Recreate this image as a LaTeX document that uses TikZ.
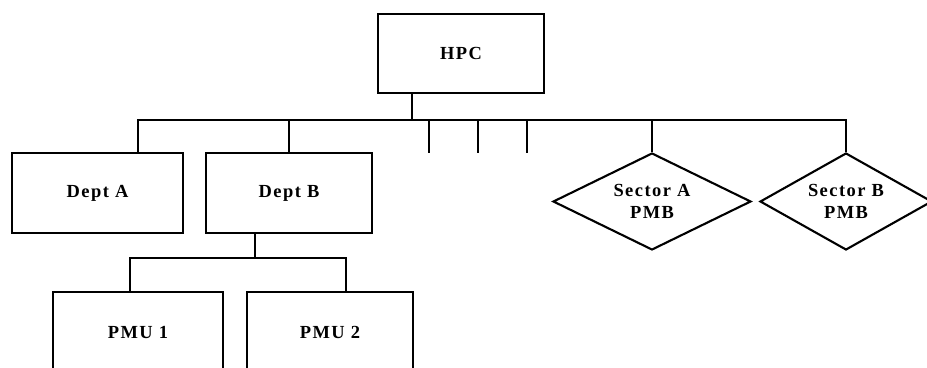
\documentclass[tikz,border=0pt]{standalone}
\usepackage{fontspec}
\setmainfont{Liberation Serif}[LetterSpace=8]
\usetikzlibrary{shapes.geometric}

\tikzset{
  unitbox/.style={draw, line width=1.2pt, minimum width=3.32cm, minimum height=1.6cm,
    font=\fontsize{10.5}{12.5}\selectfont\bfseries},
  pmbbox/.style={draw, diamond, aspect=2, line width=1.2pt, inner sep=0pt, minimum height=1.94cm,
    align=center, font=\fontsize{10.5}{12.5}\selectfont\bfseries}
}

\begin{document}
\begin{tikzpicture}[x=0.02cm, y=-0.02cm, line width=1.2pt]
  \useasboundingbox (0,0) rectangle (927,368);

  % top office
  \node[unitbox, minimum height=1.58cm] (hpc) at (461,53.5) {HPC};

  % departments
  \node[unitbox, minimum width=3.42cm] (depta) at (97.5,193) {Dept A};
  \node[unitbox] (deptb) at (289,193) {Dept B};

  % sector boards
  \node[pmbbox, minimum width=3.96cm] (seca) at (652,201.5) {Sector A\\PMB};
  \node[pmbbox, minimum width=3.44cm] (secb) at (846,201.5) {Sector B\\PMB};

  % project units under Dept B
  \node[unitbox, minimum width=3.4cm] (pmua) at (138,332) {PMU 1};
  \node[unitbox] (pmub) at (330,332) {PMU 2};

  % main bus
  \coordinate (bus) at (412,120);
  \coordinate (busa) at (138,120);
  \draw (hpc.south -| bus) -- (bus);
  \draw (depta.north -| busa) -- (busa) -- (secb.north |- bus) -- (secb.north);
  \draw (deptb.north) -- (deptb.north |- bus);
  \draw (seca.north) -- (seca.north |- bus);

  % open branches
  \foreach \x in {429,478,527} {
    \coordinate (tick\x) at (\x,153);
    \draw (tick\x |- bus) -- (tick\x);
  }

  % Dept B to the PMUs
  \coordinate (sub) at (255,258);
  \coordinate (suba) at (130,258);
  \coordinate (subb) at (346,258);
  \draw (deptb.south -| sub) -- (sub);
  \draw (pmua.north -| suba) -- (suba) -- (subb) -- (pmub.north -| subb);
\end{tikzpicture}
\end{document}
